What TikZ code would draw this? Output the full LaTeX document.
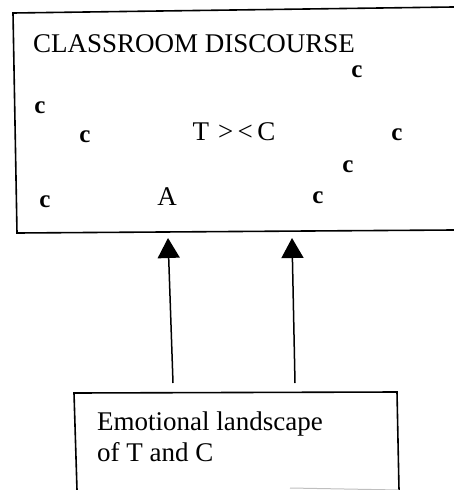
\documentclass[tikz,border=0pt]{standalone}
\usepackage{fontspec}
\setmainfont{Liberation Serif}
\usetikzlibrary{arrows.meta}
\begin{document}
\begin{tikzpicture}[x=1pt,y=-1pt,
  every node/.style={inner sep=0pt, font=\fontsize{27}{32}\selectfont},
  lbl/.style={anchor=base},
  lblw/.style={anchor=base west},
  cc/.style={anchor=base, font=\fontsize{25}{30}\selectfont\bfseries},
  frame/.style={line width=1.6pt, line join=miter, line cap=rect},
  arr/.style={line width=1.5pt, -{Triangle[width=22pt,length=20pt]}}]
\useasboundingbox (0,0) rectangle (453,490);
% top box (open on the right)
\coordinate (dtr) at (453,7);
\coordinate (dtl) at (13,13);
\coordinate (dbl) at (17,233);
\coordinate (dbr) at (453,230);
\draw[frame] (dtr) -- (dtl) -- (dbl) -- (dbr);
% lower box (open at the bottom)
\coordinate (lbl) at (77,490);
\coordinate (ltl) at (74,393);
\coordinate (ltr) at (397,392);
\coordinate (lbr) at (399,490);
\draw[frame] (lbl) -- (ltl) -- (ltr) -- (lbr);
\draw[black!25, line width=1pt] (290,488) -- (lbr);
% texts in top box
\node[lblw] (title) at (33,52) {CLASSROOM DISCOURSE};
\node[cc] (c1) at (357,77) {c};
\node[cc] (c2) at (40,113) {c};
\node[cc] (c3) at (85,142) {c};
\node[lbl] (tc) at (234,140) {T\,\,>\,<\,C};
\node[cc] (c4) at (397,140) {c};
\node[cc] (c5) at (348,172) {c};
\node[cc] (c6) at (45,207) {c};
\node[lbl] (a) at (167,205) {A};
\node[cc] (c7) at (318,203) {c};
% texts in lower box
\node[lblw] (land1) at (97,430) {Emotional landscape};
\node[lblw] (land2) at (97,461) {of T and C};
% arrows
\coordinate (a1s) at (173,383);
\coordinate (a1e) at (168,238);
\coordinate (a2s) at (295,383);
\coordinate (a2e) at (292,238);
\draw[arr] (a1s) -- (a1e);
\draw[arr] (a2s) -- (a2e);
\end{tikzpicture}
\end{document}
